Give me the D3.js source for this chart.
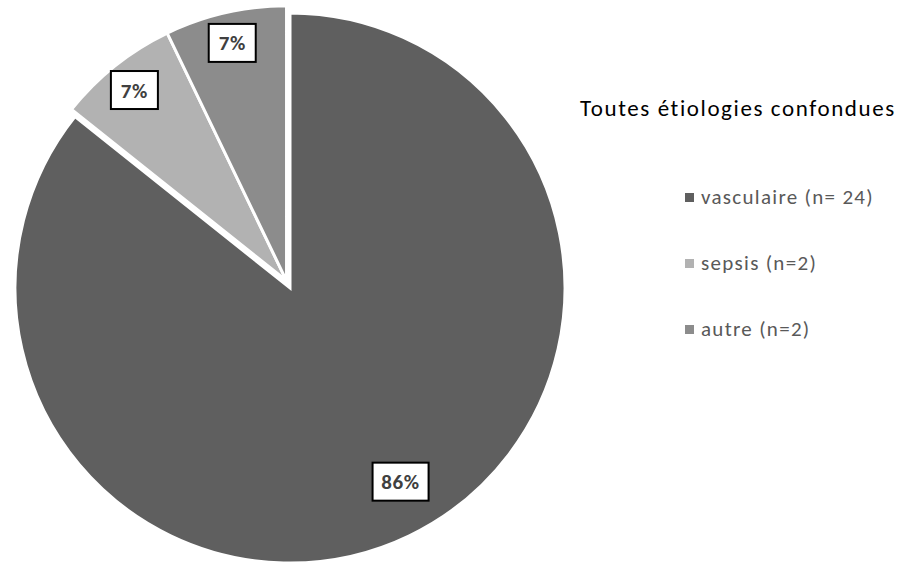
<!DOCTYPE html>
<html>
<head>
<meta charset="utf-8">
<script src="https://cdn.jsdelivr.net/npm/d3@7"></script>
<style>
    body { margin: 0; background: #fff; }
    svg { font-family: Carlito, Calibri, "Open Sans", sans-serif; }
</style>
</head>
<body>
<svg id="chart" width="910" height="562"></svg>
<script>
const categories = ["vasculaire (n= 24)", "sepsis (n=2)", "autre (n=2)"]
const counts = [24, 2, 2]
const percentLabels = ["86%", "7%", "7%"]
const exploded = [false, true, true]
const colors = ["#5f5f5f", "#b2b2b2", "#8c8c8c"]
const title = "Toutes étiologies confondues"

const center = {x: 290, y: 288}
const radius = 275
const explodeBy = 8

let svg = d3.select("#chart")

let pie = d3.pie().sort(null).value(d => d)
let arcs = pie(counts)

let arc = d3.arc().innerRadius(0).outerRadius(radius)

// small slices are pulled out together along their shared bisector
let groupMid = (arcs[1].startAngle + arcs[2].endAngle) / 2
let off = {x: Math.sin(groupMid) * explodeBy, y: -Math.cos(groupMid) * explodeBy}

let g = svg.append("g").attr("transform", `translate(${center.x},${center.y})`)

g.selectAll("path.slice")
    .data(arcs)
    .enter()
    .append("path")
    .attr("class", "slice")
    .attr("d", arc)
    .attr("transform", (d, i) => exploded[i] ? `translate(${off.x},${off.y})` : null)
    .attr("fill", (d, i) => colors[i])
    .attr("stroke", "#fff")
    .attr("stroke-width", 3)
    .attr("stroke-linejoin", "miter")

// data labels (boxed)
function labelPos(d, i) {
    let mid = (d.startAngle + d.endAngle) / 2
    if (!exploded[i]) {
        mid -= 0.07
        let r = 223
        return {x: Math.sin(mid) * r, y: -Math.cos(mid) * r}
    }
    let r = 244
    return {x: Math.sin(mid) * r + off.x, y: -Math.cos(mid) * r + off.y}
}

let labels = g.selectAll("g.lbl")
    .data(arcs)
    .enter()
    .append("g")
    .attr("class", "lbl")
    .attr("transform", (d, i) => {
        let p = labelPos(d, i)
        return `translate(${p.x},${p.y})`
    })

labels.append("rect")
    .attr("x", (d, i) => i === 0 ? -28 : -23.5)
    .attr("y", -19)
    .attr("width", (d, i) => i === 0 ? 56 : 47)
    .attr("height", 38)
    .attr("fill", "#fff")
    .attr("stroke", "#000")
    .attr("stroke-width", 2)

labels.append("text")
    .attr("text-anchor", "middle")
    .attr("dy", "0.36em")
    .attr("font-size", 21)
    .attr("font-weight", "bold")
    .attr("letter-spacing", 0.6)
    .attr("fill", "#404040")
    .text((d, i) => percentLabels[i])

// title
svg.append("text")
    .attr("x", 580)
    .attr("y", 116)
    .attr("font-size", 23)
    .attr("letter-spacing", 1.6)
    .attr("fill", "#000")
    .text(title)

// legend
let legend = svg.append("g").attr("transform", "translate(685,193)")
let rows = legend.selectAll("g")
    .data(categories)
    .enter()
    .append("g")
    .attr("transform", (d, i) => `translate(0,${i * 66})`)

rows.append("rect")
    .attr("width", 9)
    .attr("height", 9)
    .attr("fill", (d, i) => colors[i])

rows.append("text")
    .attr("x", 16)
    .attr("y", 11)
    .attr("font-size", 21)
    .attr("letter-spacing", 1.3)
    .attr("fill", "#595959")
    .text(d => d)
</script>
</body>
</html>
